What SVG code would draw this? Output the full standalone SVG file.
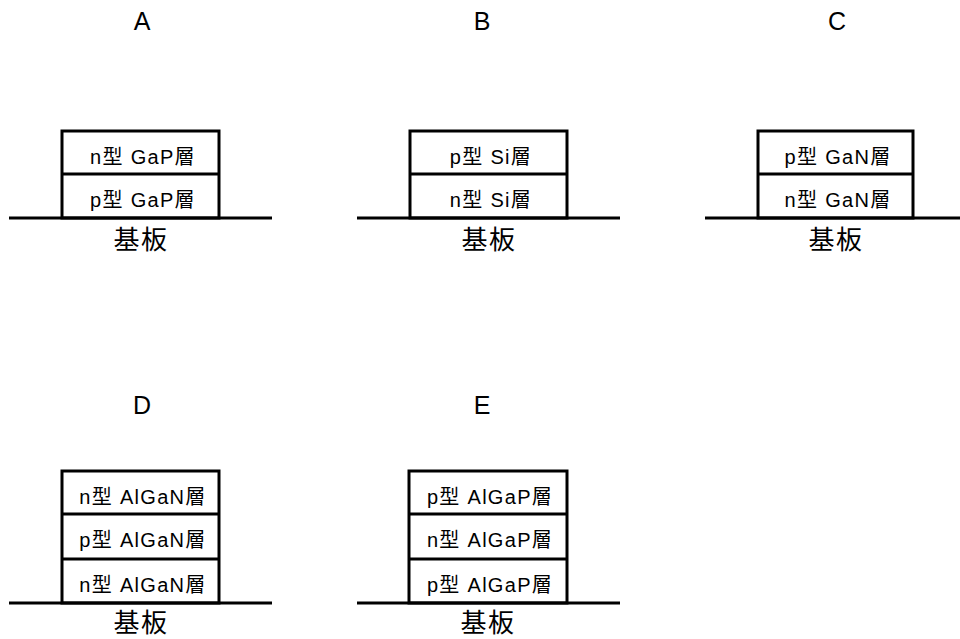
<svg xmlns="http://www.w3.org/2000/svg" width="960" height="639" viewBox="0 0 960 639">
<style>
.bg{fill:#fff}
.box{fill:#fff;stroke:#000;stroke-width:3}
.ln{stroke:#000;stroke-width:3;fill:none}
text{font-family:"Liberation Sans","Noto Sans CJK JP",sans-serif;fill:#000;text-anchor:middle}
.t{font-size:20px;letter-spacing:1.3px}
.s{font-size:26px;letter-spacing:1.5px}
.h{font-size:25px}
</style>
<rect class="bg" width="960" height="639"/>
<g id="A">
<text class="h" x="142" y="30">A</text>
<rect class="box" x="62" y="131" width="157" height="87"/>
<line class="ln" x1="62" y1="174" x2="219" y2="174"/>
<line class="ln" x1="9" y1="218" x2="272" y2="218"/>
<text class="t" x="143" y="164">n型 GaP層</text>
<text class="t" x="143" y="207">p型 GaP層</text>
<text class="s" x="141" y="249">基板</text>
</g>
<g id="B">
<text class="h" x="482" y="30">B</text>
<rect class="box" x="410" y="131" width="157" height="87"/>
<line class="ln" x1="410" y1="174" x2="567" y2="174"/>
<line class="ln" x1="357" y1="218" x2="620" y2="218"/>
<text class="t" x="491" y="164">p型 Si層</text>
<text class="t" x="491" y="207">n型 Si層</text>
<text class="s" x="489" y="249">基板</text>
</g>
<g id="C">
<text class="h" x="837" y="30">C</text>
<rect class="box" x="758" y="131" width="155" height="87"/>
<line class="ln" x1="758" y1="174" x2="913" y2="174"/>
<line class="ln" x1="705" y1="218" x2="960" y2="218"/>
<text class="t" x="838" y="164">p型 GaN層</text>
<text class="t" x="838" y="207">n型 GaN層</text>
<text class="s" x="836" y="249">基板</text>
</g>
<g id="D">
<text class="h" x="142" y="414">D</text>
<rect class="box" x="62" y="471" width="157" height="132"/>
<line class="ln" x1="62" y1="514" x2="219" y2="514"/>
<line class="ln" x1="62" y1="559" x2="219" y2="559"/>
<line class="ln" x1="9" y1="603" x2="272" y2="603"/>
<text class="t" x="143" y="504">n型 AlGaN層</text>
<text class="t" x="143" y="547">p型 AlGaN層</text>
<text class="t" x="143" y="592">n型 AlGaN層</text>
<text class="s" x="141" y="632">基板</text>
</g>
<g id="E">
<text class="h" x="482" y="414">E</text>
<rect class="box" x="409" y="471" width="158" height="132"/>
<line class="ln" x1="409" y1="514" x2="567" y2="514"/>
<line class="ln" x1="409" y1="559" x2="567" y2="559"/>
<line class="ln" x1="357" y1="603" x2="620" y2="603"/>
<text class="t" x="490" y="504">p型 AlGaP層</text>
<text class="t" x="490" y="547">n型 AlGaP層</text>
<text class="t" x="490" y="592">p型 AlGaP層</text>
<text class="s" x="488" y="632">基板</text>
</g>
<g id="connectors"></g>
</svg>
